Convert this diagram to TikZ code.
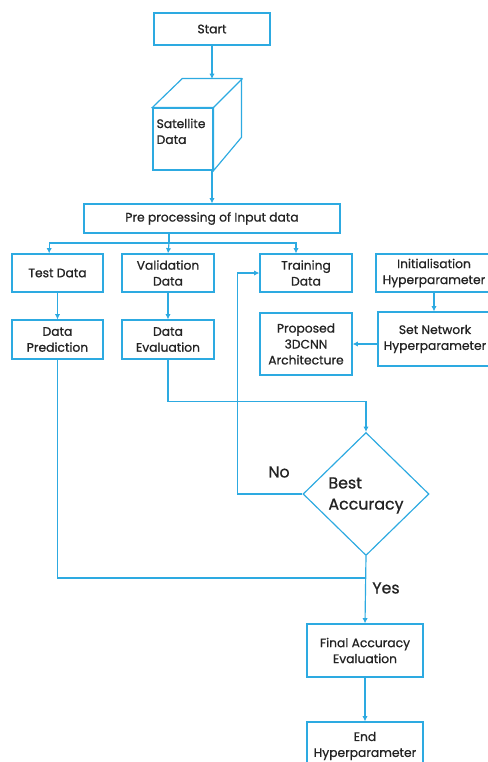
\documentclass[tikz,border=0pt]{standalone}
\usepackage{fontspec}
\setmainfont{Poppins}[FakeBold=0.8]
\usetikzlibrary{shapes.geometric,arrows.meta,shadows}
\definecolor{flowblue}{RGB}{45,170,225}
\definecolor{flowtext}{RGB}{35,35,35}
\begin{document}
\begin{tikzpicture}[x=0.3mm, y=-0.3mm,
    line/.style={draw=flowblue, line width=1pt},
    arr/.style={line, -{Latex[length=4.5pt,width=4.5pt]}},
    box/.style={draw=flowblue, line width=1pt, fill=white, text=flowtext,
      align=center, inner sep=1pt, font=\fontsize{10.5}{13.6}\selectfont,
      drop shadow={opacity=.25, shadow xshift=.7pt, shadow yshift=-.7pt}},
    decision/.style={diamond, draw=flowblue, line width=1pt, fill=white,
      text=flowtext, align=left, inner sep=0pt,
      font=\fontsize{13.5}{18}\selectfont},
    lbl/.style={text=flowtext, font=\fontsize{13.5}{16}\selectfont}]
  \useasboundingbox (0,0) rectangle (488,762);
  \clip (0,0) rectangle (488,762);

  % top part
  \node[box, minimum width=34.8mm, minimum height=9.6mm] (start) at (212,29) {Start};
  \node[box, minimum width=18mm, minimum height=18.6mm] (sat) at (183,139) {};
  \draw[line, fill=white] (sat.north west) -- ++(30,-29) -- ++(59,0) -- ++(0,59)
        -- (sat.south east) -- (sat.north east) -- cycle;
  \draw[line] (sat.north east) -- ++(29,-29);
  \node[anchor=north west, align=left, text=flowtext, inner sep=0pt,
        font=\fontsize{10.5}{13.6}\selectfont]
        (sattext) at ([shift={(4,11)}]sat.north west) {Satellite\\Data};
  \coordinate (cubetop) at (212,79);
  \node[box, minimum width=76.8mm, minimum height=8.7mm] (pre) at (212,218.5)
        {Pre processing of Input data};

  % data split
  \node[box, minimum width=27.3mm, minimum height=11.4mm] (test) at (57.5,273) {Test Data};
  \node[box, minimum width=27.6mm, minimum height=11.4mm] (val) at (168,273) {Validation\\Data};
  \node[box, minimum width=27.6mm, minimum height=11.4mm] (train) at (306,273) {Training\\Data};
  \node[box, minimum width=34.8mm, minimum height=11.4mm] (init) at (434,273)
        {Initialisation\\Hyperparameter};
  \node[box, minimum width=27.3mm, minimum height=11.7mm] (pred) at (57.5,339.5) {Data\\Prediction};
  \node[box, minimum width=27.6mm, minimum height=11.7mm] (eval) at (168,339.5) {Data\\Evaluation};
  \node[box, minimum width=27.6mm, minimum height=18.6mm] (prop) at (306,344)
        {Proposed\\3DCNN\\Architecture};
  \node[box, minimum width=34.2mm, minimum height=16.2mm] (setnet) at (435,339)
        {Set Network\\Hyperparameter};

  % decision and end
  \node[decision, minimum width=37.8mm, minimum height=36.9mm] (best) at (366,494)
        {\\[-6pt]Best\\Accuracy};
  \node[box, minimum width=34.8mm, minimum height=15.9mm] (final) at (365,650.5)
        {Final Accuracy\\Evaluation};
  \node[box, minimum width=34.8mm, minimum height=14.4mm] (end) at (365,746)
        {End\\Hyperparameter};
  \node[lbl] (no) at (279,472) {No};
  \node[lbl] (yes) at (386,588) {Yes};

  % connectors
  \draw[arr] (start.south) -- (cubetop);
  \draw[arr] (pre.north |- sat.south) -- (pre.north);
  \coordinate (split) at (169,243);
  \draw[line] (pre.south -| split) -- (split);
  \draw[arr] (split) -- (val.north);
  \draw[arr] (split) -| ([xshift=-2.5mm]test.north);
  \draw[arr] (split) -| ([xshift=-3mm]train.north);
  \draw[arr] (test) -- (pred);
  \draw[arr] (val) -- (eval);
  \draw[arr] (init) -- (init |- setnet.north);
  \draw[arr] (setnet.west |- prop) -- (prop.east);
  \draw[arr] (eval.south) -- ++(0,42) -| (best.north);
  \draw[arr] (best.west) -- ++(-65,0) |- (train.west);
  \coordinate (join) at (366,578);
  \draw[line] (pred.south) |- (join);
  \draw[arr] (best.south) -- (final.north);
  \draw[arr] (final) -- (end);
\end{tikzpicture}
\end{document}
